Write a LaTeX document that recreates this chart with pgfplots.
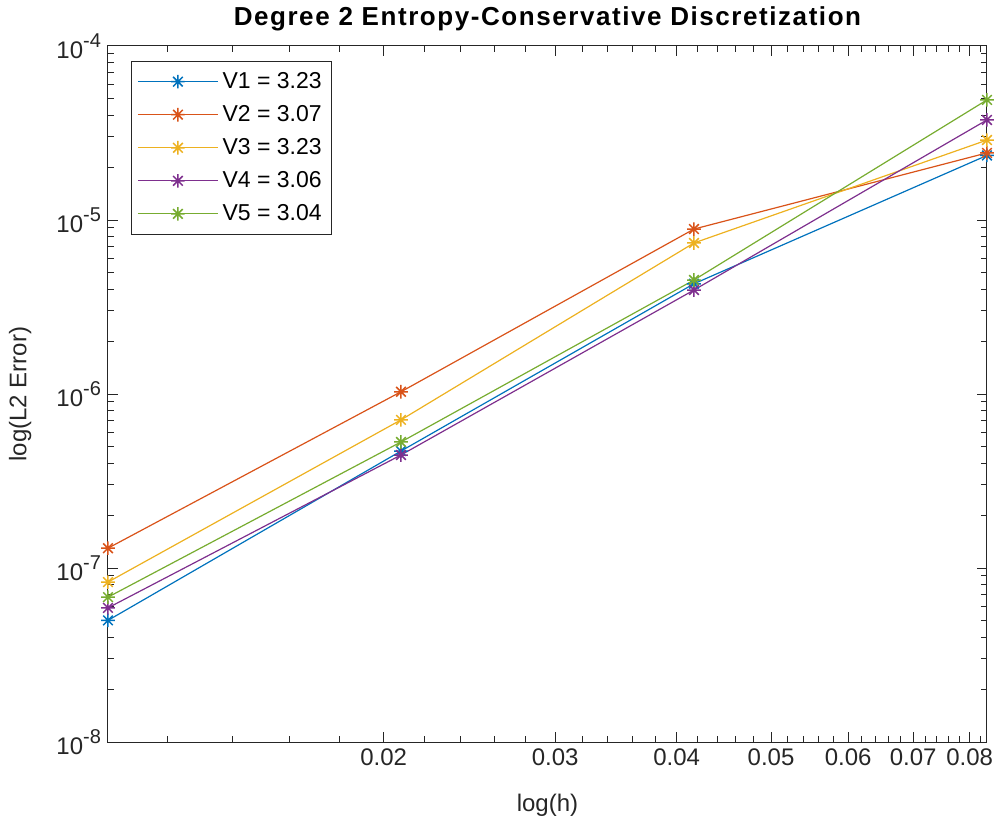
\documentclass[border=0pt]{standalone}
\usepackage{fontspec}
\setmainfont{Liberation Sans}
\usepackage{pgfplots}
\pgfplotsset{compat=1.18}
\definecolor{mblue}{rgb}{0,0.447,0.741}
\definecolor{morange}{rgb}{0.85,0.325,0.098}
\definecolor{myellow}{rgb}{0.929,0.694,0.125}
\definecolor{mpurple}{rgb}{0.494,0.184,0.556}
\definecolor{mgreen}{rgb}{0.466,0.674,0.188}
\definecolor{axgray}{rgb}{0.15,0.15,0.15}
\pgfdeclareplotmark{mstar}{%
 \pgfpathmoveto{\pgfqpoint{-\pgfplotmarksize}{0pt}}\pgfpathlineto{\pgfqpoint{\pgfplotmarksize}{0pt}}%
 \pgfpathmoveto{\pgfqpoint{0pt}{-\pgfplotmarksize}}\pgfpathlineto{\pgfqpoint{0pt}{\pgfplotmarksize}}%
 \pgfpathmoveto{\pgfqpoint{-.707\pgfplotmarksize}{-.707\pgfplotmarksize}}\pgfpathlineto{\pgfqpoint{.707\pgfplotmarksize}{.707\pgfplotmarksize}}%
 \pgfpathmoveto{\pgfqpoint{-.707\pgfplotmarksize}{.707\pgfplotmarksize}}\pgfpathlineto{\pgfqpoint{.707\pgfplotmarksize}{-.707\pgfplotmarksize}}%
 \pgfusepathqstroke}
\newcommand{\tenexp}[1]{10\raisebox{0.85ex}{\fontsize{10}{11}\selectfont #1}}
\begin{document}
\begin{tikzpicture}
\path[use as bounding box] (0,0) rectangle (503.5pt,414pt);
\begin{axis}[
  at={(54pt,43pt)}, anchor=south west,
  scale only axis, width=439.5pt, height=348pt,
  xmode=log, ymode=log,
  xmin=0.0104167, xmax=0.0833333,
  ymin=1e-8, ymax=1e-4,
  clip=false,
  axis line style={axgray, line width=0.5pt},
  every tick/.style={axgray, line width=0.5pt},
  major tick length=5pt, minor tick length=2.8pt,
  tick align=inside,
  xtick={0.02,0.03,0.04,0.05,0.06,0.07,0.08},
  xticklabels={0.02,0.03,0.04,0.05,0.06,0.07,0.08},
  minor xtick={0.012,0.014,0.016,0.018,0.022,0.024,0.026,0.028,0.032,0.034,0.036,0.038,0.042,0.044,0.046,0.048,0.052,0.054,0.056,0.058,0.062,0.064,0.066,0.068,0.072,0.074,0.076,0.078,0.082},
  ytick={1e-8,1e-7,1e-6,1e-5,1e-4},
  yticklabels={\tenexp{-8},\tenexp{-7},\tenexp{-6},\tenexp{-5},\tenexp{-4}},
  minor ytick={2e-8,3e-8,4e-8,5e-8,6e-8,7e-8,8e-8,9e-8,2e-7,3e-7,4e-7,5e-7,6e-7,7e-7,8e-7,9e-7,2e-6,3e-6,4e-6,5e-6,6e-6,7e-6,8e-6,9e-6,2e-5,3e-5,4e-5,5e-5,6e-5,7e-5,8e-5,9e-5},
  ticklabel style={font=\fontsize{12}{14}\selectfont, text=axgray},
  xlabel={log(h)}, ylabel={log(L2 Error)},
  label style={font=\fontsize{12}{14}\selectfont, text=axgray},
  xlabel style={at={(axis description cs:0.5,-0.0905)}, anchor=center},
  ylabel style={at={(axis description cs:-0.1,0.5)}, anchor=center},
  every axis title shift=0pt,
  title={\addfontfeature{LetterSpace=6}\bfseries Degree 2 Entropy-Conservative Discretization},
  title style={font=\fontsize{13}{15}\selectfont, at={(axis description cs:0.5,1.039)}, anchor=center, yshift=0pt},
  every axis plot/.append style={line width=0.6pt, mark=mstar, mark size=3.4pt, mark options={line width=0.75pt}},
  legend cell align=left,
  legend style={at={(0.026,0.979)}, anchor=north west, draw=axgray, line width=0.5pt,
    font=\fontsize{11.5}{13}\selectfont, row sep=3pt, inner xsep=3pt, inner ysep=3.5pt},
  legend image code/.code={\draw[mark repeat=2, mark phase=2] plot coordinates {(0pt,0pt)(20pt,0pt)(40pt,0pt)};},
]
\addplot[color=mblue] coordinates {(0.0104167,5.0e-8) (0.0208333,4.7e-7) (0.0416667,4.3e-6) (0.0833333,2.35e-5)};
\addlegendentry{V1 = 3.23}
\addplot[color=morange] coordinates {(0.0104167,1.30e-7) (0.0208333,1.03e-6) (0.0416667,8.87e-6) (0.0833333,2.43e-5)};
\addlegendentry{V2 = 3.07}
\addplot[color=myellow] coordinates {(0.0104167,8.3e-8) (0.0208333,7.1e-7) (0.0416667,7.38e-6) (0.0833333,2.88e-5)};
\addlegendentry{V3 = 3.23}
\addplot[color=mpurple] coordinates {(0.0104167,5.9e-8) (0.0208333,4.46e-7) (0.0416667,3.96e-6) (0.0833333,3.76e-5)};
\addlegendentry{V4 = 3.06}
\addplot[color=mgreen] coordinates {(0.0104167,6.8e-8) (0.0208333,5.3e-7) (0.0416667,4.52e-6) (0.0833333,4.9e-5)};
\addlegendentry{V5 = 3.04}
\end{axis}
\end{tikzpicture}
\end{document}
